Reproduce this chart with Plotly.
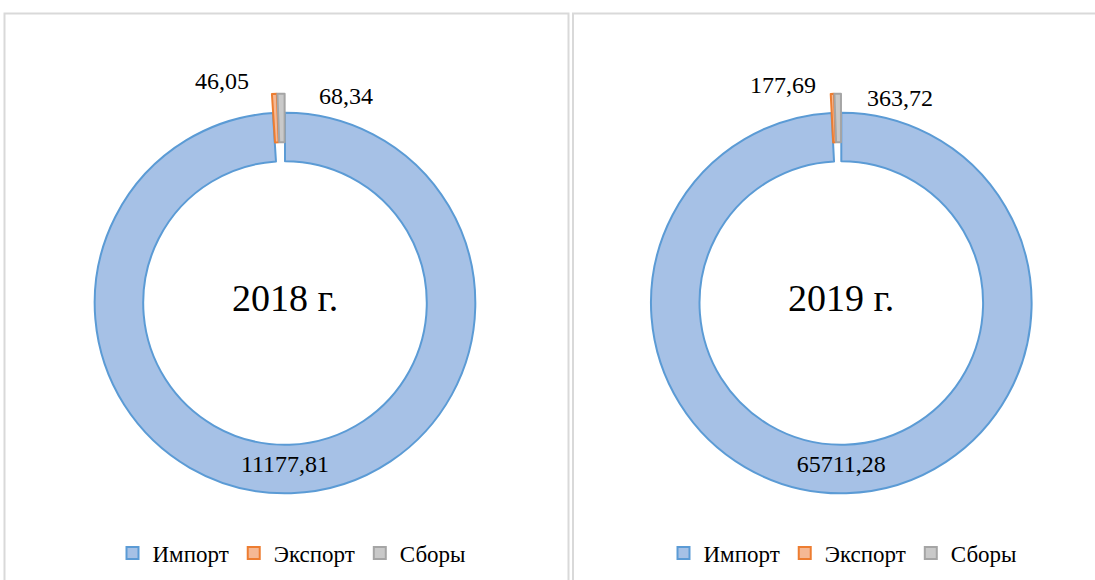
import plotly.graph_objects as go

# ---- data ----
categories = ["Импорт", "Экспорт", "Сборы"]
values_2018 = [11177.81, 46.05, 68.34]
values_2019 = [65711.28, 177.69, 363.72]
years = ["2018 г.", "2019 г."]

fill_colors = ["#a6c1e6", "#f5b894", "#c9c9c9"]
line_colors = ["#5b9bd5", "#ed7d31", "#a5a5a5"]
pulls = [0, 0.1, 0.1]

W, H = 1095, 580
FONT = "Liberation Serif, Times New Roman, serif"


def fmt(v):
    return f"{v:.2f}".replace(".", ",")


def px_x(x):
    return x / W


def px_y(y):
    return 1 - y / H


fig = go.Figure()

# donut geometry (pixels): centre and box size (r = box / 2.2 because of pull)
box = 418.7
centres = [(285, 303), (841.3, 303)]
legends = ["legend", "legend2"]

annotations = []
for i, (vals, year) in enumerate(zip([values_2018, values_2019], years)):
    cx, cy = centres[i]
    texts = [fmt(vals[0]), "", ""]
    # zero-width space keeps the two pies' legend entries separate
    labels = [c + "\u200b" * i for c in categories]
    fig.add_trace(go.Pie(
        labels=labels,
        values=vals,
        text=texts,
        textinfo="text",
        textposition="inside",
        insidetextorientation="horizontal",
        textfont=dict(family=FONT, size=24, color="black"),
        hole=0.745,
        sort=False,
        direction="clockwise",
        rotation=0,
        pull=pulls,
        marker=dict(colors=fill_colors, line=dict(color=line_colors, width=2)),
        domain=dict(x=[px_x(cx - box / 2), px_x(cx + box / 2)],
                    y=[px_y(cy + box / 2), px_y(cy - box / 2)]),
        legend=legends[i],
        hoverinfo="label+value",
    ))
    # year in the hole
    annotations.append(dict(
        x=px_x(cx), y=px_y(cy - 5), xref="paper", yref="paper",
        text=year, showarrow=False,
        font=dict(family=FONT, size=38, color="black"),
        xanchor="center", yanchor="middle",
    ))

# outside labels for the small slices
label_pos = [
    [(222, 81), (346, 96)],
    [(783, 85), (900, 98)],
]
for i, vals in enumerate([values_2018, values_2019]):
    for j, v in enumerate(vals[1:]):
        x, y = label_pos[i][j]
        annotations.append(dict(
            x=px_x(x), y=px_y(y), xref="paper", yref="paper",
            text=fmt(v), showarrow=False,
            font=dict(family=FONT, size=24, color="black"),
            xanchor="center", yanchor="middle",
        ))

shapes = [
    dict(type="rect", xref="paper", yref="paper",
         x0=px_x(4.5), x1=px_x(568.5), y0=px_y(600), y1=px_y(13.5),
         line=dict(color="#d9d9d9", width=2), fillcolor="rgba(0,0,0,0)"),
    dict(type="rect", xref="paper", yref="paper",
         x0=px_x(573), x1=px_x(1120), y0=px_y(600), y1=px_y(13.5),
         line=dict(color="#d9d9d9", width=2), fillcolor="rgba(0,0,0,0)"),
]

legend_style = dict(
    orientation="h", xanchor="center", yanchor="middle",
    font=dict(family=FONT, size=23, color="black"),
    bgcolor="rgba(0,0,0,0)",
    itemwidth=30,
)

fig.update_layout(
    width=W, height=H,
    margin=dict(l=0, r=0, t=0, b=0),
    font=dict(family=FONT, color="black"),
    paper_bgcolor="white",
    plot_bgcolor="white",
    showlegend=True,
    legend=dict(x=px_x(292), y=px_y(553), **legend_style),
    legend2=dict(x=px_x(843), y=px_y(553), **legend_style),
    annotations=annotations,
    shapes=shapes,
)

fig.write_html("out.html", config={"displayModeBar": False},
               post_script="document.body.style.margin='0';")
